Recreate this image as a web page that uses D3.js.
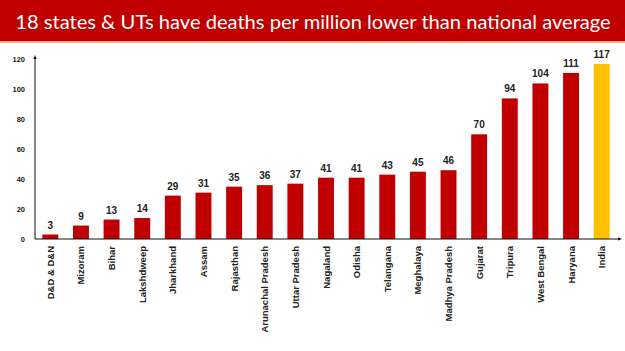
<!DOCTYPE html>
<html>
<head>
<meta charset="utf-8">
<script src="https://cdn.jsdelivr.net/npm/d3@7"></script>
<style>
  body { margin: 0; background: #fff; }
  svg { display: block; }
</style>
</head>
<body>
<svg id="chart" width="625" height="351"></svg>
<script>
const states = ["D&D & D&N", "Mizoram", "Bihar", "Lakshdweep", "Jharkhand", "Assam",
  "Rajasthan", "Arunachal Pradesh", "Uttar Pradesh", "Nagaland", "Odisha", "Telangana",
  "Meghalaya", "Madhya Pradesh", "Gujarat", "Tripura", "West Bengal", "Haryana", "India"];
const deaths = [3, 9, 13, 14, 29, 31, 35, 36, 37, 41, 41, 43, 45, 46, 70, 94, 104, 111, 117];
const yTicks = [0, 20, 40, 60, 80, 100, 120];
const title = "18 states & UTs have deaths per million lower than national average";

const svg = d3.select("#chart");

// Title banner
svg.append("rect").attr("x", 0).attr("y", 0).attr("width", 625).attr("height", 41).attr("fill", "#c00000");
svg.append("rect").attr("x", 0).attr("y", 41).attr("width", 625).attr("height", 2).attr("fill", "#f4b183");
const titleText = svg.append("text")
  .attr("x", 313).attr("y", 29)
  .attr("text-anchor", "middle")
  .attr("fill", "#fff")
  .attr("font-family", "Lato, 'Open Sans', sans-serif")
  .attr("font-size", 22)
  .text(title);
// fit the title to ~596px wide by scaling the font size
const natural = titleText.node().getComputedTextLength();
titleText.attr("font-size", 22 * 596 / natural);

const x0 = 35, x1 = 617, yBase = 239;

const x = d3.scaleBand(states, [x0, x1]).paddingInner(0.48).paddingOuter(0.24);
const y = d3.scaleLinear([0, 120], [yBase, 59.5]);

const font = "'Liberation Sans', Arial, sans-serif";

// Bars
svg.append("g")
  .selectAll("rect")
  .data(states)
  .join("rect")
  .attr("x", d => x(d))
  .attr("width", x.bandwidth())
  .attr("y", (d, i) => y(deaths[i]))
  .attr("height", (d, i) => yBase - y(deaths[i]))
  .attr("fill", d => d === "India" ? "#ffc000" : "#c00000");

// Value labels
svg.append("g")
  .selectAll("text")
  .data(states)
  .join("text")
  .attr("x", d => x(d) + x.bandwidth() / 2)
  .attr("y", (d, i) => y(deaths[i]) - 6)
  .attr("text-anchor", "middle")
  .attr("font-family", font)
  .attr("font-weight", "bold")
  .attr("font-size", 10)
  .attr("fill", "#222")
  .text((d, i) => deaths[i]);

// Y axis
const axisY = d3.axisLeft(y).tickValues(yTicks).tickSize(0).tickPadding(10);
svg.append("g")
  .attr("transform", `translate(${x0},0)`)
  .call(axisY)
  .call(g => g.select(".domain").remove())
  .call(g => g.selectAll("text")
    .attr("font-family", font)
    .attr("font-weight", "bold")
    .attr("font-size", 7.5)
    .attr("fill", "#222"));

// Axis lines with arrows
svg.append("defs").append("marker")
  .attr("id", "arrow")
  .attr("viewBox", "0 0 10 10")
  .attr("refX", 5).attr("refY", 5)
  .attr("markerWidth", 4).attr("markerHeight", 4)
  .attr("orient", "auto")
  .append("path")
  .attr("d", "M0,1 L10,5 L0,9 Z")
  .attr("fill", "#111");

svg.append("line")
  .attr("x1", x0).attr("x2", x0)
  .attr("y1", yBase).attr("y2", 57)
  .attr("stroke", "#111").attr("stroke-width", 1)
  .attr("marker-end", "url(#arrow)");

svg.append("line")
  .attr("x1", x0).attr("x2", 620)
  .attr("y1", yBase).attr("y2", yBase)
  .attr("stroke", "#111").attr("stroke-width", 1)
  .attr("marker-end", "url(#arrow)");

// Category labels, rotated
svg.append("g")
  .selectAll("text")
  .data(states)
  .join("text")
  .attr("transform", d => `translate(${x(d) + x.bandwidth() / 2 + 3.5},${yBase + 7}) rotate(-90)`)
  .attr("text-anchor", "end")
  .attr("font-family", font)
  .attr("font-weight", "bold")
  .attr("font-size", 9.5)
  .attr("fill", "#222")
  .text(d => d);
</script>
</body>
</html>
